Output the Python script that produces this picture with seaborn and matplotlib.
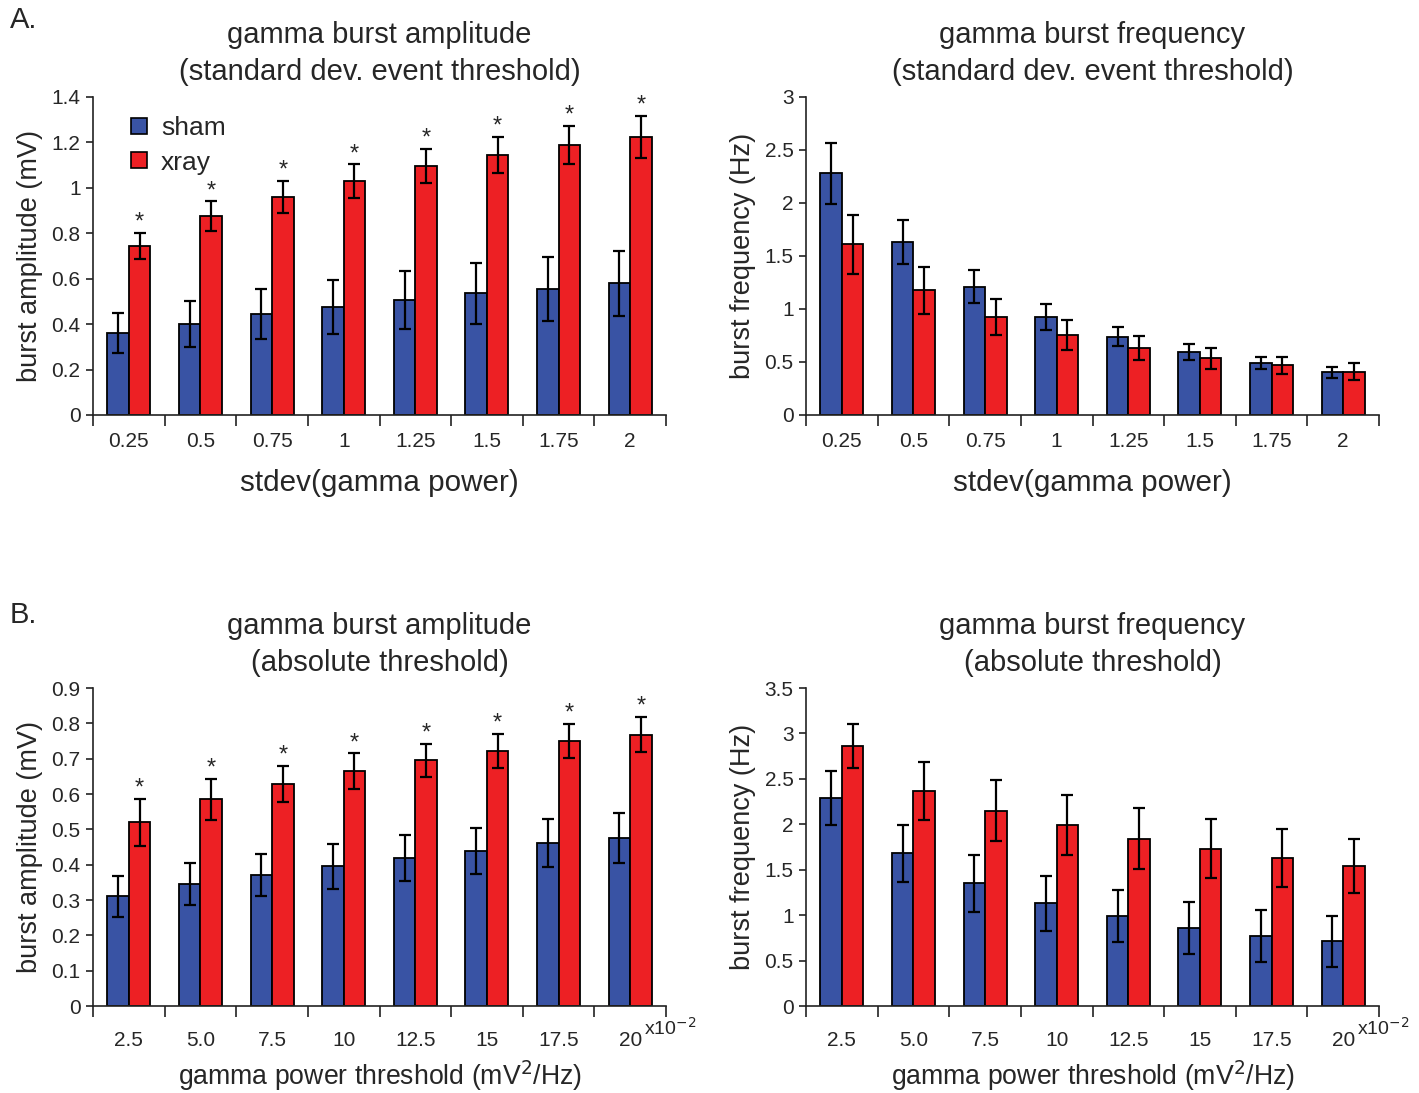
import numpy as np
import pandas as pd
import matplotlib
matplotlib.use("Agg")
import matplotlib.pyplot as plt
import seaborn as sns
from matplotlib.lines import Line2D
from matplotlib import font_manager

# ---------------- data ----------------
std_labels = ['0.25', '0.5', '0.75', '1', '1.25', '1.5', '1.75', '2']
abs_labels = ['2.5', '5.0', '7.5', '10', '12.5', '15', '17.5', '20']
groups = ['sham', 'xray']

# A. amplitude, standard-deviation threshold (mV)
amp_std_sham = [0.36, 0.40, 0.445, 0.475, 0.505, 0.535, 0.555, 0.58]
amp_std_sham_err = [0.088, 0.10, 0.11, 0.12, 0.128, 0.135, 0.14, 0.142]
amp_std_xray = [0.745, 0.875, 0.96, 1.03, 1.095, 1.145, 1.19, 1.225]
amp_std_xray_err = [0.057, 0.065, 0.07, 0.073, 0.075, 0.08, 0.083, 0.092]

# A. frequency, standard-deviation threshold (Hz)
frq_std_sham = [2.28, 1.63, 1.21, 0.925, 0.74, 0.595, 0.49, 0.405]
frq_std_sham_err = [0.29, 0.21, 0.155, 0.125, 0.09, 0.078, 0.06, 0.052]
frq_std_xray = [1.61, 1.175, 0.925, 0.755, 0.63, 0.535, 0.47, 0.41]
frq_std_xray_err = [0.28, 0.22, 0.17, 0.14, 0.115, 0.10, 0.08, 0.078]

# B. amplitude, absolute threshold (mV)
amp_abs_sham = [0.31, 0.345, 0.37, 0.395, 0.418, 0.44, 0.46, 0.475]
amp_abs_sham_err = [0.058, 0.06, 0.06, 0.063, 0.065, 0.065, 0.068, 0.07]
amp_abs_xray = [0.52, 0.585, 0.628, 0.665, 0.695, 0.722, 0.75, 0.768]
amp_abs_xray_err = [0.067, 0.058, 0.052, 0.05, 0.047, 0.047, 0.048, 0.05]

# B. frequency, absolute threshold (Hz)
frq_abs_sham = [2.29, 1.68, 1.35, 1.13, 0.99, 0.86, 0.77, 0.71]
frq_abs_sham_err = [0.30, 0.31, 0.31, 0.30, 0.29, 0.29, 0.285, 0.285]
frq_abs_xray = [2.86, 2.37, 2.15, 1.99, 1.84, 1.73, 1.63, 1.54]
frq_abs_xray_err = [0.24, 0.32, 0.335, 0.33, 0.335, 0.325, 0.315, 0.30]

colors = {'sham': '#3953A4', 'xray': '#ED2024'}

# ---------------- style ----------------
sns.set_style('white')
plt.rcParams['font.family'] = ['Liberation Sans', 'DejaVu Sans']
avail = {f.name for f in font_manager.fontManager.ttflist}
tick_family = 'Liberation Sans Narrow' if 'Liberation Sans Narrow' in avail else 'Liberation Sans'

fig = plt.figure(figsize=(14.19, 10.93), dpi=100)
W, H = 1419, 1093


def add_ax(left, top, right, bottom):
    return fig.add_axes([left / W, 1 - bottom / H, (right - left) / W, (bottom - top) / H])


def draw(ax, labels, sham, sham_err, xray, xray_err, ymax, ystep, title, ylabel,
         xlabel, stars=False, note=False, legend=False):
    df = pd.DataFrame({
        'thr': labels * 2,
        'val': list(sham) + list(xray),
        'group': ['sham'] * len(labels) + ['xray'] * len(labels),
    })
    sns.barplot(data=df, x='thr', y='val', hue='group', order=labels, hue_order=groups,
                palette=colors, errorbar=None, width=0.6, edgecolor='black',
                linewidth=1.3, saturation=1, legend=False, ax=ax)
    errs = {'sham': (sham, sham_err), 'xray': (xray, xray_err)}
    for cont, g in zip(ax.containers, groups):
        xs = [b.get_x() + b.get_width() / 2 for b in cont]
        vals, e = errs[g]
        ax.errorbar(xs, vals, yerr=e, fmt='none', ecolor='black', elinewidth=1.6,
                    capsize=4, capthick=1.6, zorder=5)
        if stars and g == 'xray':
            for x, v, ee in zip(xs, vals, e):
                ax.annotate('*', (x, v + ee), xytext=(0, -0.5), textcoords='offset points',
                            ha='center', va='bottom', fontsize=17)
    ax.set_xlim(-0.5, len(labels) - 0.5)
    ax.set_ylim(0, ymax)
    yt = np.round(np.arange(0, ymax + ystep / 2, ystep), 6)
    ax.set_yticks(yt)
    ax.set_yticklabels(['{:g}'.format(v) for v in yt], family=tick_family, fontsize=15)
    # major ticks at category boundaries, labels at centres
    ax.set_xticks(np.arange(-0.5, len(labels), 1))
    ax.set_xticklabels([''] * (len(labels) + 1))
    ax.set_xticks(np.arange(len(labels)), minor=True)
    ax.set_xticklabels(labels, minor=True, family=tick_family, fontsize=15)
    ax.tick_params(axis='x', which='major', direction='out', length=8, width=1.2,
                   color='#222222', bottom=True)
    ax.tick_params(axis='x', which='minor', length=0, pad=12 if not note else 18)
    ax.tick_params(axis='y', direction='out', length=5, width=1.2, color='#222222',
                   left=True, pad=4)
    for s in ['top', 'right']:
        ax.spines[s].set_visible(False)
    for s in ['left', 'bottom']:
        ax.spines[s].set_color('#222222')
        ax.spines[s].set_linewidth(1.2)
    ax.set_title(title, fontsize=21, pad=12, linespacing=1.42)
    ax.set_ylabel(ylabel, fontsize=19.5, labelpad=6)
    if note:
        ax.set_xlabel(xlabel, fontsize=19.2, labelpad=6)
        ax.text(1.008, -0.068, r'x10$^{\mathrm{-2}}$', transform=ax.transAxes, ha='center',
                va='center', fontsize=14, family=tick_family)
    else:
        ax.set_xlabel(xlabel, fontsize=21.3, labelpad=13)
    if legend:
        handles = [Line2D([], [], marker='s', linestyle='none', markersize=11,
                          markerfacecolor=colors[g], markeredgecolor='black',
                          markeredgewidth=1.2) for g in groups]
        ax.legend(handles, groups, loc='upper left', bbox_to_anchor=(0.015, 1.015),
                  frameon=False, fontsize=19, handletextpad=0.35, labelspacing=0.4,
                  handlelength=1.0)
    ax.set_facecolor('none')


ax1 = add_ax(93, 97, 666, 415)
ax2 = add_ax(806, 97, 1379, 415)
ax3 = add_ax(93, 688, 666, 1006)
ax4 = add_ax(806, 688, 1379, 1006)

draw(ax1, std_labels, amp_std_sham, amp_std_sham_err, amp_std_xray, amp_std_xray_err,
     1.4, 0.2, 'gamma burst amplitude\n(standard dev. event threshold)',
     'burst amplitude (mV)', 'stdev(gamma power)', stars=True, legend=True)
draw(ax2, std_labels, frq_std_sham, frq_std_sham_err, frq_std_xray, frq_std_xray_err,
     3.0, 0.5, 'gamma burst frequency\n(standard dev. event threshold)',
     'burst frequency (Hz)', 'stdev(gamma power)')
draw(ax3, abs_labels, amp_abs_sham, amp_abs_sham_err, amp_abs_xray, amp_abs_xray_err,
     0.9, 0.1, 'gamma burst amplitude\n(absolute threshold)',
     'burst amplitude (mV)', r'gamma power threshold (mV$^2$/Hz)', stars=True, note=True)
draw(ax4, abs_labels, frq_abs_sham, frq_abs_sham_err, frq_abs_xray, frq_abs_xray_err,
     3.5, 0.5, 'gamma burst frequency\n(absolute threshold)',
     'burst frequency (Hz)', r'gamma power threshold (mV$^2$/Hz)', note=True)

fig.text(10 / W, 1 - 20 / H, 'A.', fontsize=21, ha='left', va='center')
fig.text(10 / W, 1 - 615 / H, 'B.', fontsize=21, ha='left', va='center')

fig.savefig('out.png', dpi=100, facecolor='white')
